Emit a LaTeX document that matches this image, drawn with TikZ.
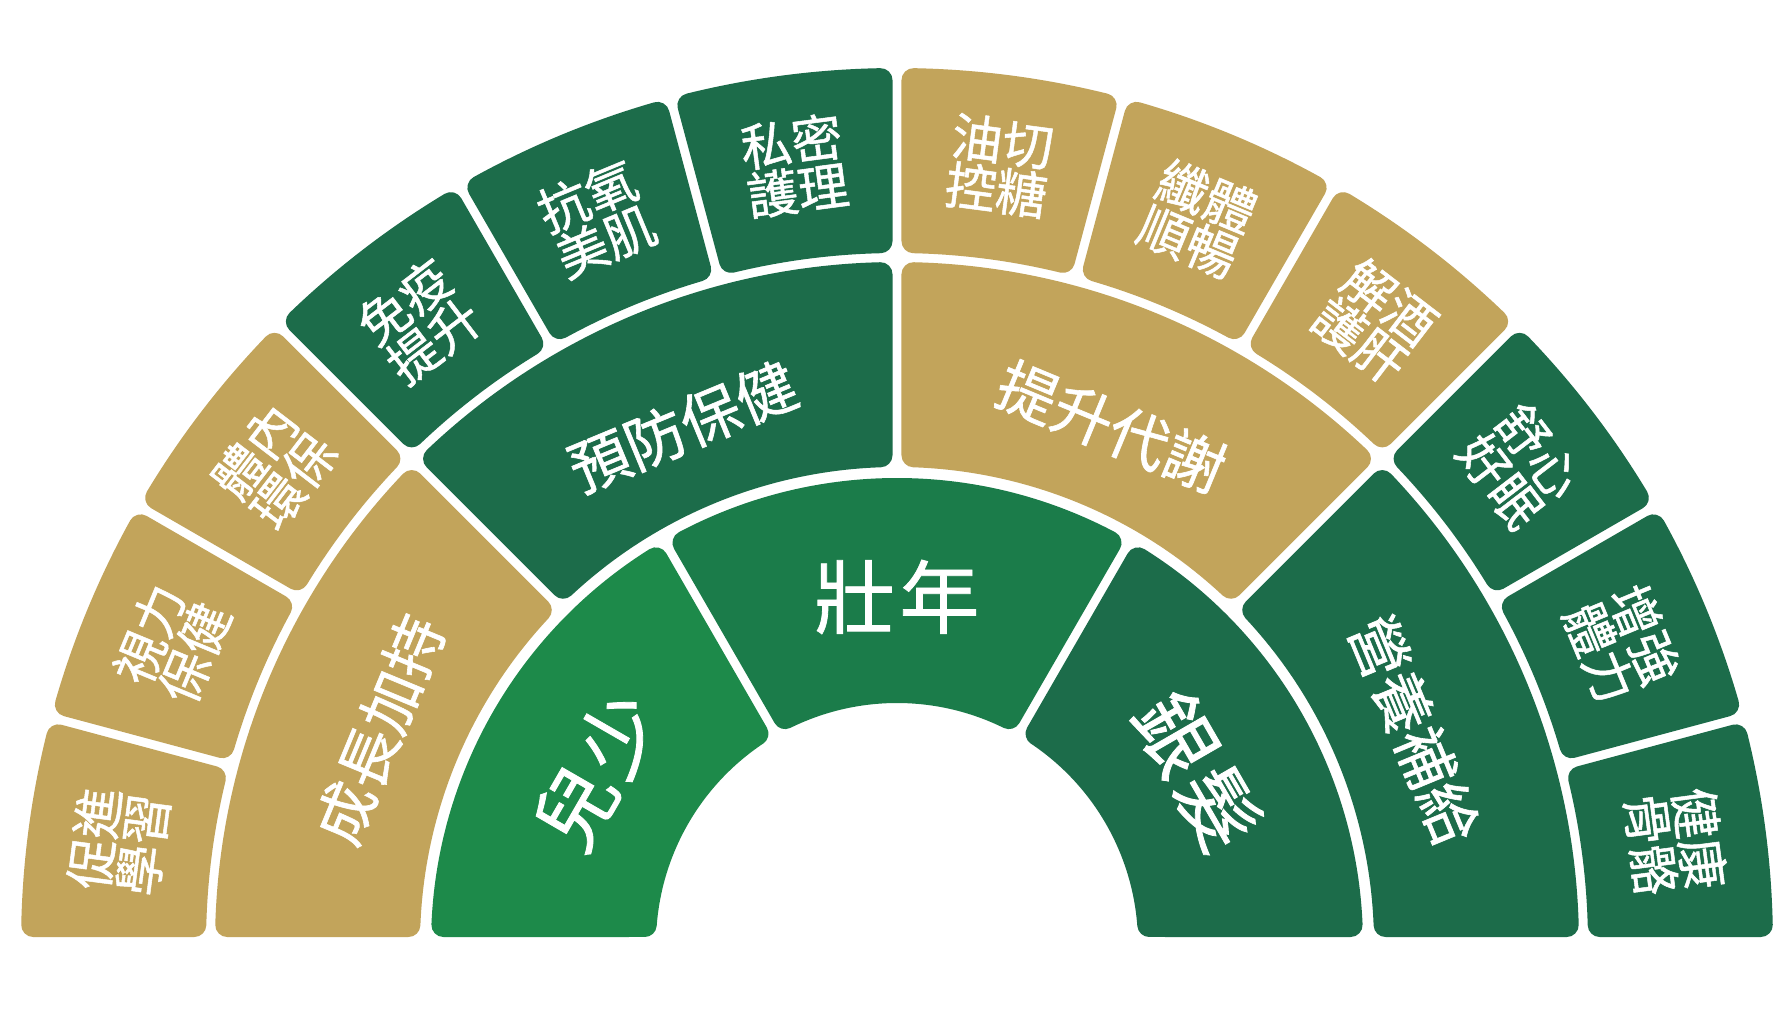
\documentclass[tikz,border=0pt]{standalone}
\usepackage{fontspec}
\newfontfamily\cjk[FakeBold=1]{Noto Sans CJK TC}
\definecolor{tanc}{HTML}{C2A45B}
\definecolor{dkg}{HTML}{1C6C4A}
\definecolor{ltg}{HTML}{1D8A4A}
\definecolor{mdg}{HTML}{1B7C4A}
\def\segR{12}
\newcommand\mysector[7]{%
  \pgfmathsetmacro\rA{#3+\segR}%
  \pgfmathsetmacro\rB{#4-\segR}%
  \pgfmathsetmacro\bA{#1+asin((#6+\segR)/\rA)}%
  \pgfmathsetmacro\bB{#1+asin((#6+\segR)/\rB)}%
  \pgfmathsetmacro\bC{#2-asin((#7+\segR)/\rB)}%
  \pgfmathsetmacro\bD{#2-asin((#7+\segR)/\rA)}%
  \filldraw[#5, line width=2*\segR pt, line join=round]
    (\bA:\rA pt) -- (\bB:\rB pt) arc[start angle=\bB, end angle=\bC, radius=\rB pt]
    -- (\bD:\rA pt) arc[start angle=\bD, end angle=\bA, radius=\rA pt] -- cycle;
}
\tikzset{
  lbl/.style={text=white, align=center, inner sep=0pt},
  outerlbl/.style={lbl, font=\cjk\fontsize{51}{49}\selectfont},
  midlbl/.style={lbl, font=\cjk\fontsize{60}{60}\selectfont},
  innerlbl/.style={lbl, font=\cjk\fontsize{80}{80}\selectfont}
}
\begin{document}
\begin{tikzpicture}[x=1pt,y=1pt]
\fill[white] (0,0) rectangle (1792,1009);
\useasboundingbox (0,0) rectangle (1792,1009);
\begin{scope}[shift={(897,65)}]
% outer ring
\def\ri{691}\def\ro{876}
\mysector{165}{180}{\ri}{\ro}{tanc}{4.5}{7}
\mysector{150}{165}{\ri}{\ro}{tanc}{4.5}{4.5}
\mysector{135}{150}{\ri}{\ro}{tanc}{4.5}{4.5}
\mysector{120}{135}{\ri}{\ro}{dkg}{4.5}{4.5}
\mysector{105}{120}{\ri}{\ro}{dkg}{4.5}{4.5}
\mysector{90}{105}{\ri}{\ro}{dkg}{4.5}{4.5}
\mysector{75}{90}{\ri}{\ro}{tanc}{4.5}{4.5}
\mysector{60}{75}{\ri}{\ro}{tanc}{4.5}{4.5}
\mysector{45}{60}{\ri}{\ro}{tanc}{4.5}{4.5}
\mysector{30}{45}{\ri}{\ro}{dkg}{4.5}{4.5}
\mysector{15}{30}{\ri}{\ro}{dkg}{4.5}{4.5}
\mysector{0}{15}{\ri}{\ro}{dkg}{7}{4.5}
% middle ring
\def\ri{477}\def\ro{682}
\mysector{135}{180}{\ri}{\ro}{tanc}{4.5}{7}
\mysector{90}{135}{\ri}{\ro}{dkg}{4.5}{4.5}
\mysector{45}{90}{\ri}{\ro}{tanc}{4.5}{4.5}
\mysector{0}{45}{\ri}{\ro}{dkg}{7}{4.5}
% inner ring
\def\ri{241}\def\ro{466}
\mysector{120}{180}{\ri}{\ro}{ltg}{4.5}{7}
\mysector{60}{120}{\ri}{\ro}{mdg}{4.5}{4.5}
\mysector{0}{60}{\ri}{\ro}{dkg}{7}{4.5}
% outer labels
\node (o1) [outerlbl, rotate=82.5] at (172.5:785) {促進\\學習};
\node (o2) [outerlbl, rotate=67.5] at (157.5:785) {視力\\保健};
\node (o3) [outerlbl, rotate=52.5] at (142.5:785) {體內\\環保};
\node (o4) [outerlbl, rotate=37.5] at (127.5:785) {免疫\\提升};
\node (o5) [outerlbl, rotate=22.5] at (112.5:785) {抗氧\\美肌};
\node (o6) [outerlbl, rotate=7.5] at (97.5:785) {私密\\護理};
\node (o7) [outerlbl, rotate=-7.5] at (82.5:785) {油切\\控糖};
\node (o8) [outerlbl, rotate=-22.5] at (67.5:785) {纖體\\順暢};
\node (o9) [outerlbl, rotate=-37.5] at (52.5:785) {解酒\\護肝};
\node (o10) [outerlbl, rotate=-52.5] at (37.5:785) {舒心\\好眠};
\node (o11) [outerlbl, rotate=-67.5] at (22.5:785) {增強\\體力};
\node (o12) [outerlbl, rotate=-82.5] at (7.5:785) {健康\\骨骼};
% middle labels
\node (m1) [midlbl, rotate=67.5] at (157.5:560) {成長加持};
\node (m2) [midlbl, rotate=22.5] at (112.5:560) {預防保健};
\node (m3) [midlbl, rotate=-22.5] at (67.5:560) {提升代謝};
\node (m4) [midlbl, rotate=-67.5] at (22.5:560) {營養補給};
% inner labels
\node (i1) [innerlbl, rotate=60] at (150:347) {兒\hspace{5pt}少};
\node (i2) [innerlbl, rotate=0] at (90:347) {壯\hspace{5pt}年};
\node (i3) [innerlbl, rotate=-60] at (30:347) {銀\hspace{5pt}髮};
\end{scope}
\end{tikzpicture}
\end{document}
